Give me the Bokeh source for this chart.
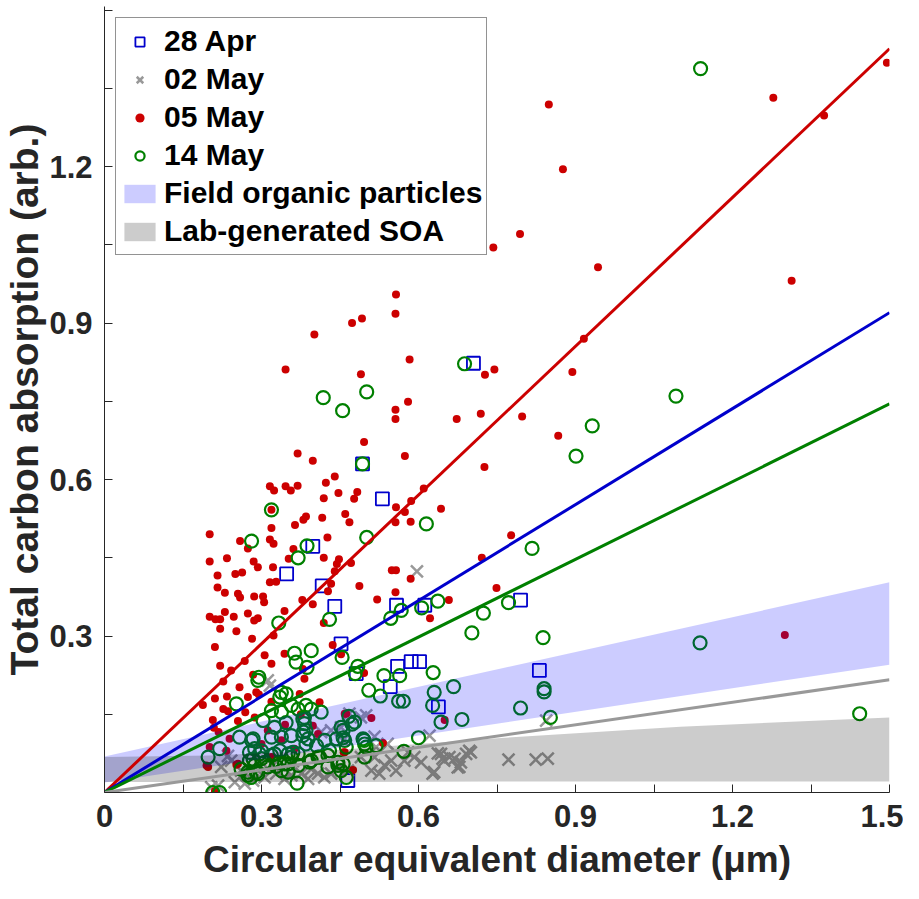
from bokeh.core.properties import value
from bokeh.embed import file_html
from bokeh.models import FixedTicker, Legend, LegendItem, Range1d
from bokeh.plotting import figure
from bokeh.resources import INLINE

# 28 Apr
apr28_x = [0.705, 0.493, 0.531, 0.398, 0.348, 0.416, 0.440, 0.558, 0.612, 0.795,
           0.452, 0.481, 0.560, 0.586, 0.602, 0.546, 0.638, 0.831, 0.465]
apr28_y = [0.823, 0.630, 0.563, 0.472, 0.419, 0.396, 0.357, 0.359, 0.359, 0.369,
           0.285, 0.228, 0.242, 0.251, 0.251, 0.203, 0.164, 0.234, 0.023]

# 02 May
may02_x = [0.597, 0.316, 0.312, 0.414, 0.433, 0.452, 0.490, 0.500, 0.468, 0.456,
           0.516, 0.519, 0.541, 0.490, 0.516, 0.548, 0.535, 0.557, 0.510, 0.525,
           0.580, 0.592, 0.605, 0.621, 0.627, 0.643, 0.649, 0.669, 0.678, 0.691,
           0.697, 0.573, 0.637, 0.646, 0.659, 0.681, 0.700, 0.675, 0.630, 0.772,
           0.824, 0.847, 0.844, 0.223, 0.242, 0.261, 0.268, 0.284, 0.306, 0.328,
           0.344, 0.357, 0.376, 0.389, 0.408, 0.420, 0.433, 0.446, 0.465, 0.322,
           0.249, 0.204, 0.217, 0.360, 0.395, 0.300, 0.236]
may02_y = [0.424, 0.205, 0.215, 0.116, 0.119, 0.125, 0.144, 0.148, 0.151, 0.100,
           0.107, 0.087, 0.093, 0.068, 0.068, 0.061, 0.052, 0.042, 0.042, 0.036,
           0.077, 0.068, 0.058, 0.109, 0.036, 0.074, 0.061, 0.065, 0.049, 0.074,
           0.080, 0.061, 0.075, 0.065, 0.068, 0.058, 0.077, 0.048, 0.039, 0.063,
           0.063, 0.065, 0.138, 0.049, 0.061, 0.042, 0.017, 0.023, 0.029, 0.036,
           0.026, 0.033, 0.036, 0.026, 0.036, 0.029, 0.036, 0.045, 0.042, 0.052,
           0.020, 0.010, 0.013, 0.060, 0.045, 0.058, 0.070]

# 05 May
may05_x = [0.849, 1.278, 1.375, 1.495, 0.876, 0.794, 0.743, 0.943, 1.313, 0.557,
           0.556, 0.473, 0.492, 0.401, 0.916, 0.346, 0.583, 0.490, 0.727, 0.745,
           0.894, 0.556, 0.580, 0.556, 0.673, 0.719, 0.798, 0.867, 0.496, 0.369,
           0.398, 0.574, 0.726, 0.440, 0.423, 0.316, 0.324, 0.346, 0.356, 0.369,
           0.447, 0.483, 0.477, 0.419, 0.610, 0.586, 0.557, 0.574, 0.643, 0.460,
           0.468, 0.416, 0.380, 0.385, 0.364, 0.319, 0.319, 0.556, 0.585, 0.777,
           0.201, 0.316, 0.323, 0.426, 0.259, 0.274, 0.361, 0.352, 0.419, 0.721,
           0.201, 0.234, 0.285, 0.293, 0.322, 0.448, 0.444, 0.471, 0.440, 0.216,
           0.250, 0.263, 0.549, 0.557, 0.585, 0.316, 0.328, 0.433, 0.487, 0.749,
           0.216, 0.230, 0.255, 0.259, 0.286, 0.303, 0.305, 0.427, 0.556, 0.378,
           0.398, 0.521, 0.622, 0.658, 0.230, 0.201, 0.212, 0.221, 0.247, 0.274,
           0.286, 0.293, 0.344, 0.419, 0.211, 0.221, 0.268, 0.306, 0.319, 0.282,
           0.323, 0.252, 0.221, 0.344, 0.436, 0.452, 0.496, 1.300, 0.284, 0.242,
           0.227, 0.188, 0.211, 0.258, 0.274, 0.290, 0.295, 0.234, 0.227, 0.269,
           0.236, 0.319, 0.287, 0.207, 0.255, 0.209, 0.218, 0.239, 0.201, 0.198,
           0.252, 0.211, 0.300, 0.312, 0.338, 0.363, 0.373, 0.382, 0.379, 0.411,
           0.398, 0.459, 0.459, 0.475, 0.510, 0.532, 0.650, 0.195, 0.233, 0.319,
           0.255, 0.408, 0.462, 0.457, 0.375, 0.345]
may05_y = [1.319, 1.332, 1.298, 1.399, 1.195, 1.071, 1.045, 1.007, 0.981, 0.955,
           0.918, 0.900, 0.909, 0.878, 0.870, 0.811, 0.830, 0.802, 0.801, 0.811,
           0.806, 0.734, 0.749, 0.716, 0.716, 0.726, 0.721, 0.684, 0.672, 0.650,
           0.636, 0.645, 0.624, 0.606, 0.594, 0.587, 0.579, 0.587, 0.579, 0.588,
           0.574, 0.576, 0.563, 0.564, 0.583, 0.559, 0.547, 0.538, 0.544, 0.534,
           0.518, 0.527, 0.523, 0.529, 0.513, 0.542, 0.507, 0.518, 0.519, 0.493,
           0.495, 0.485, 0.477, 0.489, 0.482, 0.468, 0.467, 0.448, 0.450, 0.450,
           0.443, 0.449, 0.443, 0.432, 0.432, 0.447, 0.438, 0.440, 0.424, 0.416,
           0.419, 0.422, 0.426, 0.426, 0.410, 0.403, 0.404, 0.400, 0.396, 0.392,
           0.393, 0.383, 0.381, 0.374, 0.376, 0.376, 0.365, 0.386, 0.384, 0.369,
           0.361, 0.370, 0.334, 0.369, 0.346, 0.337, 0.332, 0.332, 0.337, 0.343,
           0.330, 0.334, 0.348, 0.325, 0.279, 0.243, 0.252, 0.263, 0.247, 0.295,
           0.301, 0.309, 0.314, 0.266, 0.283, 0.265, 0.229, 0.302, 0.226, 0.234,
           0.213, 0.168, 0.180, 0.202, 0.183, 0.192, 0.188, 0.184, 0.160, 0.154,
           0.156, 0.174, 0.144, 0.139, 0.137, 0.124, 0.116, 0.103, 0.087, 0.049,
           0.053, 0.003, 0.093, 0.119, 0.100, 0.084, 0.189, 0.218, 0.237, 0.173,
           0.128, 0.151, 0.077, 0.043, 0.143, 0.095, 0.139, 0.052, 0.080, 0.068,
           0.055, 0.112, 0.151, 0.077, 0.150, 0.130]

# 14 May
may14_x = [1.139, 0.688, 1.092, 0.932, 0.901, 0.418, 0.501, 0.455, 0.493, 0.319,
           0.615, 0.501, 0.281, 0.387, 0.370, 0.817, 0.637, 0.606, 0.567, 0.547,
           0.430, 0.333, 0.724, 0.772, 0.702, 0.838, 1.138, 0.295, 0.363, 0.366,
           0.395, 0.387, 0.454, 0.484, 0.479, 0.534, 0.564, 0.628, 0.667, 0.840,
           0.840, 0.630, 0.627, 0.643, 0.683, 0.795, 0.852, 1.443, 0.505, 0.527,
           0.562, 0.571, 0.467, 0.478, 0.473, 0.456, 0.456, 0.459, 0.494, 0.497,
           0.519, 0.572, 0.600, 0.497, 0.462, 0.456, 0.252, 0.338, 0.347, 0.335,
           0.319, 0.338, 0.357, 0.370, 0.385, 0.395, 0.414, 0.382, 0.303, 0.325,
           0.347, 0.319, 0.338, 0.357, 0.380, 0.389, 0.385, 0.405, 0.421, 0.443,
           0.452, 0.462, 0.258, 0.284, 0.287, 0.300, 0.277, 0.277, 0.300, 0.287,
           0.261, 0.293, 0.312, 0.334, 0.325, 0.351, 0.360, 0.370, 0.351, 0.370,
           0.392, 0.411, 0.427, 0.446, 0.274, 0.280, 0.220, 0.198, 0.207, 0.220,
           0.368, 0.496, 0.500, 0.379, 0.382, 0.385, 0.379, 0.430, 0.408, 0.395,
           0.427, 0.446, 0.452, 0.335, 0.319, 0.357, 0.344, 0.293, 0.281, 0.296,
           0.284, 0.306, 0.274, 0.290, 0.328, 0.338, 0.351]
may14_y = [1.388, 0.822, 0.760, 0.703, 0.645, 0.757, 0.768, 0.732, 0.630, 0.542,
           0.515, 0.489, 0.482, 0.473, 0.450, 0.468, 0.367, 0.354, 0.349, 0.334,
           0.332, 0.325, 0.344, 0.364, 0.306, 0.297, 0.287, 0.221, 0.267, 0.250,
           0.272, 0.240, 0.259, 0.242, 0.228, 0.224, 0.224, 0.230, 0.203, 0.199,
           0.193, 0.192, 0.167, 0.135, 0.140, 0.162, 0.144, 0.151, 0.196, 0.185,
           0.175, 0.175, 0.146, 0.135, 0.131, 0.119, 0.105, 0.100, 0.103, 0.093,
           0.090, 0.079, 0.105, 0.068, 0.029, 0.055, 0.170, 0.192, 0.189, 0.183,
           0.157, 0.154, 0.167, 0.160, 0.167, 0.160, 0.154, 0.144, 0.138, 0.125,
           0.134, 0.106, 0.106, 0.109, 0.116, 0.103, 0.093, 0.090, 0.100, 0.103,
           0.125, 0.087, 0.106, 0.103, 0.084, 0.080, 0.077, 0.061, 0.065, 0.052,
           0.045, 0.036, 0.049, 0.058, 0.074, 0.074, 0.077, 0.074, 0.055, 0.052,
           0.058, 0.068, 0.071, 0.058, 0.033, 0.029, 0.084, 0.068, 0.000, 0.000,
           0.018, 0.100, 0.087, 0.141, 0.132, 0.119, 0.109, 0.080, 0.068, 0.061,
           0.049, 0.052, 0.042, 0.080, 0.071, 0.068, 0.055, 0.215, 0.100, 0.074,
           0.064, 0.058, 0.039, 0.039, 0.050, 0.042, 0.039]

# fitted lines
fit_x = [0.0, 1.5]
fit_apr28 = [0.0, 0.920]
fit_may02 = [0.0, 0.216]
fit_may05 = [0.0, 1.426]
fit_may14 = [0.0, 0.745]

# shaded ranges
field_x = [0.0, 1.5]
field_lo = [0.019, 0.245]
field_hi = [0.069, 0.403]
lab_x = [0.0, 0.2, 0.45, 0.75, 1.1, 1.5]
lab_lo = [0.020, 0.020, 0.020, 0.021, 0.021, 0.021]
lab_hi = [0.068, 0.071, 0.082, 0.104, 0.126, 0.144]

x_major = [0.0, 0.3, 0.6, 0.9, 1.2, 1.5]
x_minor = [0.15, 0.45, 0.75, 1.05, 1.35]
y_major = [0.3, 0.6, 0.9, 1.2]
y_minor = [0.15, 0.45, 0.75, 1.05, 1.35, 1.5]

FONT = "Liberation Sans"
AX = "#262626"

p = figure(width=903, height=883, x_range=Range1d(0, 1.5), y_range=Range1d(0, 1.507),
           output_backend="svg", toolbar_location=None,
           min_border_left=103, min_border_right=14, min_border_top=6, min_border_bottom=91)
p.outline_line_color = None
p.xgrid.grid_line_color = None
p.ygrid.grid_line_color = None

r_apr28 = p.scatter(apr28_x, apr28_y, marker="square", size=13, fill_color=None,
                    line_color="#0000cc", line_width=1.8)
r_may02 = p.scatter(may02_x, may02_y, marker="x", size=17, line_color="#999999", line_width=2.5)
r_may05 = p.scatter(may05_x, may05_y, marker="circle", size=8, fill_color="#cc0000", line_color=None)
r_may14 = p.scatter(may14_x, may14_y, marker="circle", size=13, fill_color=None,
                    line_color="#008000", line_width=2.2)

r_field = p.varea(x=field_x, y1=field_lo, y2=field_hi, fill_color="blue", fill_alpha=0.2)
r_lab = p.varea(x=lab_x, y1=lab_lo, y2=lab_hi, fill_color="black", fill_alpha=0.2)

p.line(fit_x, fit_may05, line_color="#cc0000", line_width=3)
p.line(fit_x, fit_apr28, line_color="#0000cc", line_width=3)
p.line(fit_x, fit_may14, line_color="#008000", line_width=3)
p.line(fit_x, fit_may02, line_color="#999999", line_width=3)

for ax, major, minor in ((p.xaxis, x_major, x_minor), (p.yaxis, y_major, y_minor)):
    ax.ticker = FixedTicker(ticks=major, minor_ticks=minor)
    ax.axis_line_color = AX
    ax.major_tick_line_color = AX
    ax.minor_tick_line_color = AX
    ax.major_tick_in = 8
    ax.major_tick_out = 0
    ax.minor_tick_in = 8
    ax.minor_tick_out = 0
    ax.major_label_text_font = FONT
    ax.major_label_text_font_style = "bold"
    ax.major_label_text_font_size = "31px"
    ax.major_label_text_color = AX
    ax.axis_label_text_font = FONT
    ax.axis_label_text_font_style = "bold"
    ax.axis_label_text_color = AX

p.xaxis.major_label_overrides = {0: "0"}
p.xaxis.major_label_standoff = 12
p.xaxis.axis_label = "Circular equivalent diameter (μm)"
p.xaxis.axis_label_text_font_size = "37px"
p.xaxis.axis_label_standoff = 9
p.yaxis.major_label_standoff = 12
p.yaxis.axis_label = "Total carbon absorption (arb.)"
p.yaxis.axis_label_text_font_size = "39px"
p.yaxis.axis_label_standoff = 0

legend = Legend(items=[
    LegendItem(label="28 Apr", renderers=[r_apr28]),
    LegendItem(label="02 May", renderers=[r_may02]),
    LegendItem(label="05 May", renderers=[r_may05]),
    LegendItem(label="14 May", renderers=[r_may14]),
    LegendItem(label="Field organic particles", renderers=[r_field]),
    LegendItem(label="Lab-generated SOA", renderers=[r_lab]),
], location="top_left")
legend.margin = 11
legend.padding = 4
legend.spacing = 0
legend.glyph_width = 39
legend.glyph_height = 23
legend.label_height = 38
legend.label_standoff = 5
legend.label_text_font = FONT
legend.label_text_font_style = "bold"
legend.label_text_font_size = "30px"
legend.label_text_color = "black"
legend.border_line_color = AX
legend.border_line_width = 1
legend.background_fill_alpha = 1
p.add_layout(legend)

open("out.html", "w").write(file_html(p, INLINE))
